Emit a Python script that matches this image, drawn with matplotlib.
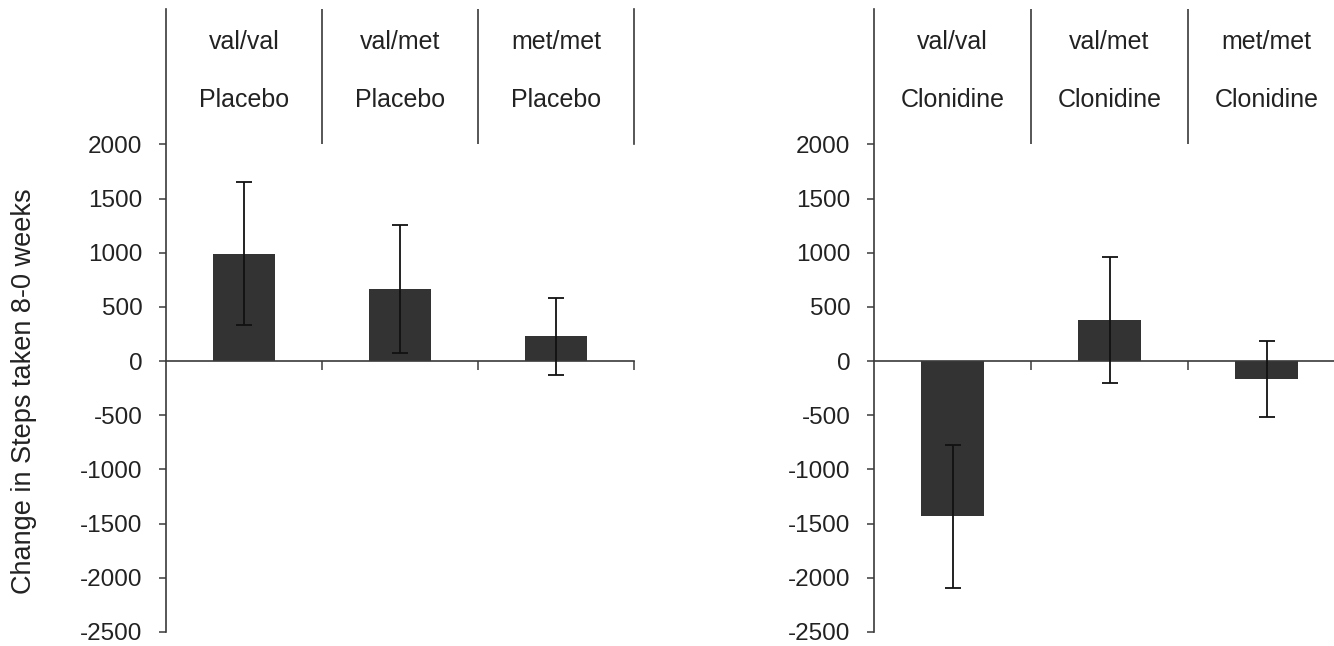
import matplotlib.pyplot as plt

plt.rcParams['font.family'] = ['Liberation Sans', 'DejaVu Sans']

genotypes = ["val/val", "val/met", "met/met"]
placebo_mean = [990, 665, 228]
placebo_err = [660, 590, 355]
clonidine_mean = [-1430, 380, -165]
clonidine_err = [660, 578, 350]
yticks = [2000, 1500, 1000, 500, 0, -500, -1000, -1500, -2000, -2500]

ylabel = "Change in Steps taken 8-0 weeks"
line_col = "#3a3a3a"
bar_col = "#333333"
y_top = 3250


def panel(ax, means, errs, drug):
    x = [1, 2, 3]
    ax.bar(x, means, width=0.4, color=bar_col, zorder=2)
    ax.errorbar(x, means, yerr=errs, fmt="none", ecolor="#111111",
                elinewidth=1.3, capsize=6, capthick=1.3, zorder=3)
    ax.set_xlim(0.5, 3.5)
    ax.set_ylim(-2500, y_top)
    ax.set_yticks(yticks)
    ax.set_yticklabels([str(t) for t in yticks])
    ax.tick_params(axis="y", labelsize=17.5, length=5, width=1.1, pad=12,
                   color=line_col, labelcolor="#222222")
    # zero line with ticks at category borders
    ax.spines["bottom"].set_position(("data", 0))
    ax.spines["bottom"].set_bounds(0.5, 3.5)
    ax.set_xticks([1.5, 2.5, 3.5])
    ax.set_xticklabels([])
    ax.tick_params(axis="x", length=6.5, width=1.1, direction="out", color=line_col)
    ax.spines["left"].set_bounds(-2500, y_top)
    ax.spines["right"].set_bounds(2000, y_top)
    ax.spines["top"].set_visible(False)
    for s in ["left", "right", "bottom"]:
        ax.spines[s].set_color(line_col)
        ax.spines[s].set_linewidth(1.2)
    ax.vlines([1.5, 2.5], 2000, y_top, color=line_col, lw=1.2)
    for xi, g in zip(x, genotypes):
        ax.text(xi, 2950, g, ha="center", va="center", fontsize=18, color="#222222")
        ax.text(xi, 2415, drug, ha="center", va="center", fontsize=18, color="#222222")


fig = plt.figure(figsize=(13.34, 6.46), dpi=100)
ax1 = fig.add_axes([0.1244, 0.0217, 0.3508, 0.9643])
ax2 = fig.add_axes([0.6552, 0.0217, 0.3531, 0.9643])

panel(ax1, placebo_mean, placebo_err, "Placebo")
panel(ax2, clonidine_mean, clonidine_err, "Clonidine")

fig.text(0.018, 0.395, ylabel, rotation=90, ha="center", va="center",
         fontsize=19.5, color="#222222")

fig.savefig("out.png", dpi=100)
